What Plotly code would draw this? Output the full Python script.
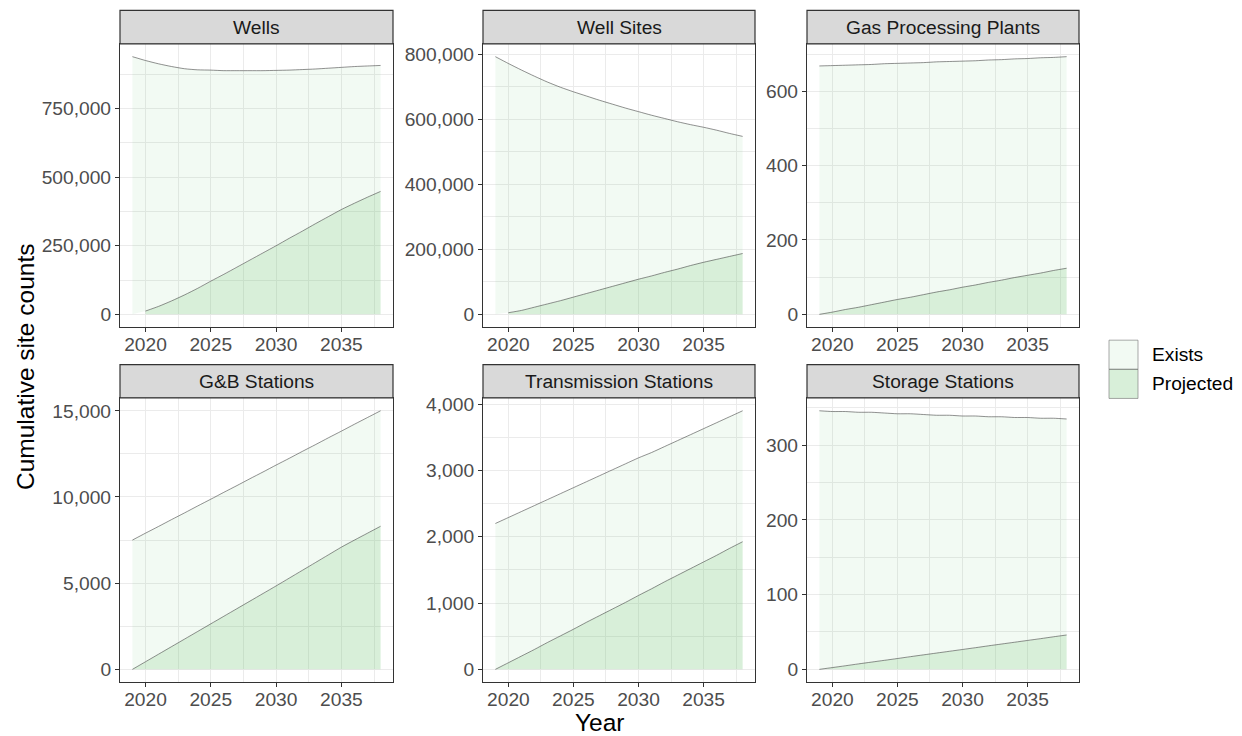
import numpy as np
import plotly.graph_objects as go

# ---- data -----------------------------------------------------------------
years = [2019, 2020, 2021, 2022, 2023, 2024, 2025, 2026, 2027, 2028,
         2029, 2030, 2031, 2032, 2033, 2034, 2035, 2036, 2037, 2038]

panel_names = ["Wells", "Well Sites", "Gas Processing Plants",
               "G&B Stations", "Transmission Stations", "Storage Stations"]

wells_exists = [939000, 913000, 884000, 854000, 824000, 796000, 769000, 742000, 716000, 690000,
                664000, 639000, 613000, 589000, 564000, 541000, 518000, 498000, 478000, 459000]
wells_projected = [None, 12000, 29000, 49000, 71000, 95000, 121000, 146000, 172000, 198000,
                   224000, 250000, 277000, 303000, 330000, 356000, 382000, 405000, 427000, 448000]

sites_exists = [792000, 766000, 739000, 710000, 682000, 656000, 631000, 607000, 583000, 560000,
                537000, 515000, 494000, 473000, 453000, 433000, 415000, 397000, 378000, 360000]
sites_projected = [None, 5000, 12000, 22000, 32000, 42000, 53000, 64000, 75000, 86000,
                   97000, 108000, 118000, 129000, 139000, 150000, 160000, 169000, 178000, 187000]

gpp_exists = [668, 663, 657, 652, 646, 641, 635, 630, 624, 619,
              614, 608, 603, 598, 593, 588, 583, 579, 573, 569]
gpp_projected = [0, 6, 13, 19, 26, 33, 40, 46, 53, 60,
                 66, 73, 79, 86, 92, 99, 105, 111, 118, 124]

gb_exists = [7500, 7460, 7410, 7370, 7320, 7280, 7230, 7190, 7140, 7100,
             7050, 7010, 6950, 6900, 6840, 6790, 6730, 6720, 6710, 6700]
gb_projected = [0, 440, 880, 1320, 1760, 2200, 2640, 3080, 3520, 3960,
                4400, 4840, 5290, 5740, 6190, 6640, 7090, 7500, 7900, 8300]

trans_exists = [2200, 2190, 2180, 2170, 2155, 2145, 2135, 2120, 2110, 2100,
                2090, 2075, 2055, 2040, 2030, 2020, 2010, 2000, 1985, 1975]
trans_projected = [0, 100, 200, 300, 405, 505, 605, 710, 810, 910,
                   1010, 1115, 1215, 1320, 1420, 1520, 1620, 1720, 1825, 1925]

storage_exists = [346, 342.6, 340.2, 336.7, 334.3, 330.9, 327.5, 325, 321.6, 318.2,
                  315.8, 312.4, 310, 306.5, 304.1, 300.7, 298.3, 294.9, 292.4, 289]
storage_projected = [0, 2.4, 4.8, 7.3, 9.7, 12.1, 14.5, 17, 19.4, 21.8,
                     24.2, 26.6, 29, 31.5, 33.9, 36.3, 38.7, 41.1, 43.6, 46]

exists_series = [wells_exists, sites_exists, gpp_exists, gb_exists, trans_exists, storage_exists]
projected_series = [wells_projected, sites_projected, gpp_projected,
                    gb_projected, trans_projected, storage_projected]

x_ticks = [2020, 2025, 2030, 2035]
y_dticks = [250000, 200000, 200, 5000, 1000, 100]

# ---- styling ----------------------------------------------------------------
W, H = 1242, 736
FONT = "Liberation Sans, Arial, Helvetica, sans-serif"
TICK_SIZE = 19.2
TITLE_SIZE = 24.5
EXISTS_FILL = "rgba(116,196,118,0.09)"
PROJ_FILL = "rgba(116,196,118,0.28)"
OUTLINE = "rgba(70,70,70,0.85)"
GRID = "#EBEBEB"
BORDER = "#333333"

# panel boxes in pixels: (left, right) per column, (top, bottom) per row
cols_px = [(120, 393), (483, 755), (807, 1079)]
rows_px = [(40, 325), (396, 682)]
strip_h = 33.5


def px_x(v):
    return v / W


def px_y(v):
    return 1 - v / H


fig = go.Figure()
shapes = []
annotations = []

x_lo, x_hi = min(years), max(years)
x_pad = 0.05 * (x_hi - x_lo)

for i, name in enumerate(panel_names):
    r, c = divmod(i, 3)
    ax = "" if i == 0 else str(i + 1)
    xref, yref = "x" + ax, "y" + ax

    exists = np.array(exists_series[i], dtype=float)
    proj_raw = projected_series[i]
    proj = np.array([np.nan if v is None else v for v in proj_raw], dtype=float)
    base = np.nan_to_num(proj, nan=0.0)
    total = base + exists

    # "Exists" band stacked on top of the projected values
    fig.add_trace(go.Scatter(
        x=years + years[::-1], y=list(total) + list(base[::-1]),
        fill="toself", fillcolor=EXISTS_FILL, mode="lines",
        line=dict(width=0), hoverinfo="skip", showlegend=False,
        xaxis=xref, yaxis=yref))

    # "Projected" area from zero
    mask = ~np.isnan(proj)
    px_years = [y for y, m in zip(years, mask) if m]
    fig.add_trace(go.Scatter(
        x=px_years, y=proj[mask], fill="tozeroy", fillcolor=PROJ_FILL,
        mode="lines", line=dict(color=OUTLINE, width=0.7, shape="spline", smoothing=0.6),
        name="Projected", showlegend=False, xaxis=xref, yaxis=yref))

    # upper outline of the stack
    fig.add_trace(go.Scatter(
        x=years, y=total, mode="lines",
        line=dict(color=OUTLINE, width=0.7, shape="spline", smoothing=0.6),
        name="Exists", showlegend=False, xaxis=xref, yaxis=yref))

    y_max = float(np.nanmax(total))
    y_pad = 0.05 * y_max
    dt = y_dticks[i]

    (l, rr), (t, b) = cols_px[c], rows_px[r]
    axis_common = dict(
        showline=True, mirror=True, linecolor=BORDER, linewidth=1.2,
        ticks="outside", ticklen=4, tickwidth=1, tickcolor=BORDER,
        tickfont=dict(family=FONT, size=TICK_SIZE, color="#4D4D4D"),
        showgrid=True, gridcolor=GRID, gridwidth=1.1, zeroline=False,
    )
    fig.layout["xaxis" + ax] = dict(
        axis_common, domain=[px_x(l), px_x(rr)],
        range=[x_lo - x_pad, x_hi + x_pad], tickvals=x_ticks,
        ticklabelstandoff=-4,
        minor=dict(showgrid=True, gridcolor=GRID, gridwidth=0.6,
                   tickvals=[2017.5, 2022.5, 2027.5, 2032.5, 2037.5], ticks=""),
        anchor=yref,
    )
    fig.layout["yaxis" + ax] = dict(
        axis_common, domain=[px_y(b), px_y(t)],
        range=[-y_pad, y_max + y_pad], dtick=dt, tick0=0, tickformat=",d",
        minor=dict(showgrid=True, gridcolor=GRID, gridwidth=0.6,
                   dtick=dt / 2, tick0=dt / 2, ticks=""),
        anchor=xref,
    )

    # facet strip
    shapes.append(dict(type="rect", xref="paper", yref="paper",
                       x0=px_x(l), x1=px_x(rr), y0=px_y(t), y1=px_y(t - strip_h),
                       fillcolor="#D9D9D9", line=dict(color=BORDER, width=1.2),
                       layer="above"))
    annotations.append(dict(text=name, xref="paper", yref="paper",
                            x=px_x((l + rr) / 2), y=px_y(t - strip_h / 2),
                            showarrow=False, xanchor="center", yanchor="middle",
                            font=dict(family=FONT, size=TICK_SIZE, color="#1A1A1A")))

# axis titles
annotations.append(dict(text="Year", xref="paper", yref="paper",
                        x=px_x(600), y=px_y(737), showarrow=False,
                        xanchor="center", yanchor="bottom", borderpad=0,
                        font=dict(family=FONT, size=TITLE_SIZE, color="black")))
annotations.append(dict(text="Cumulative site counts", xref="paper", yref="paper",
                        x=px_x(25), y=px_y(365), showarrow=False, textangle=-90,
                        xanchor="center", yanchor="middle",
                        font=dict(family=FONT, size=TITLE_SIZE, color="black")))

# legend keys
legend_items = [("Exists", EXISTS_FILL), ("Projected", PROJ_FILL)]
key_x0, key_x1, key_top, key_h = 1109, 1138, 338, 29.3
for k, (label, col) in enumerate(legend_items):
    y0 = key_top + k * key_h
    shapes.append(dict(type="rect", xref="paper", yref="paper",
                       x0=px_x(key_x0), x1=px_x(key_x1),
                       y0=px_y(y0 + key_h), y1=px_y(y0),
                       fillcolor=col, line=dict(color="rgba(120,120,120,0.8)", width=0.8)))
    annotations.append(dict(text=label, xref="paper", yref="paper",
                            x=px_x(1150), y=px_y(y0 + key_h / 2), showarrow=False,
                            xanchor="left", yanchor="middle",
                            font=dict(family=FONT, size=TICK_SIZE, color="black")))

fig.update_layout(
    width=W, height=H, margin=dict(l=0, r=0, t=0, b=0),
    paper_bgcolor="white", plot_bgcolor="white",
    shapes=shapes, annotations=annotations, showlegend=False,
)

fig.write_html("out.html")
